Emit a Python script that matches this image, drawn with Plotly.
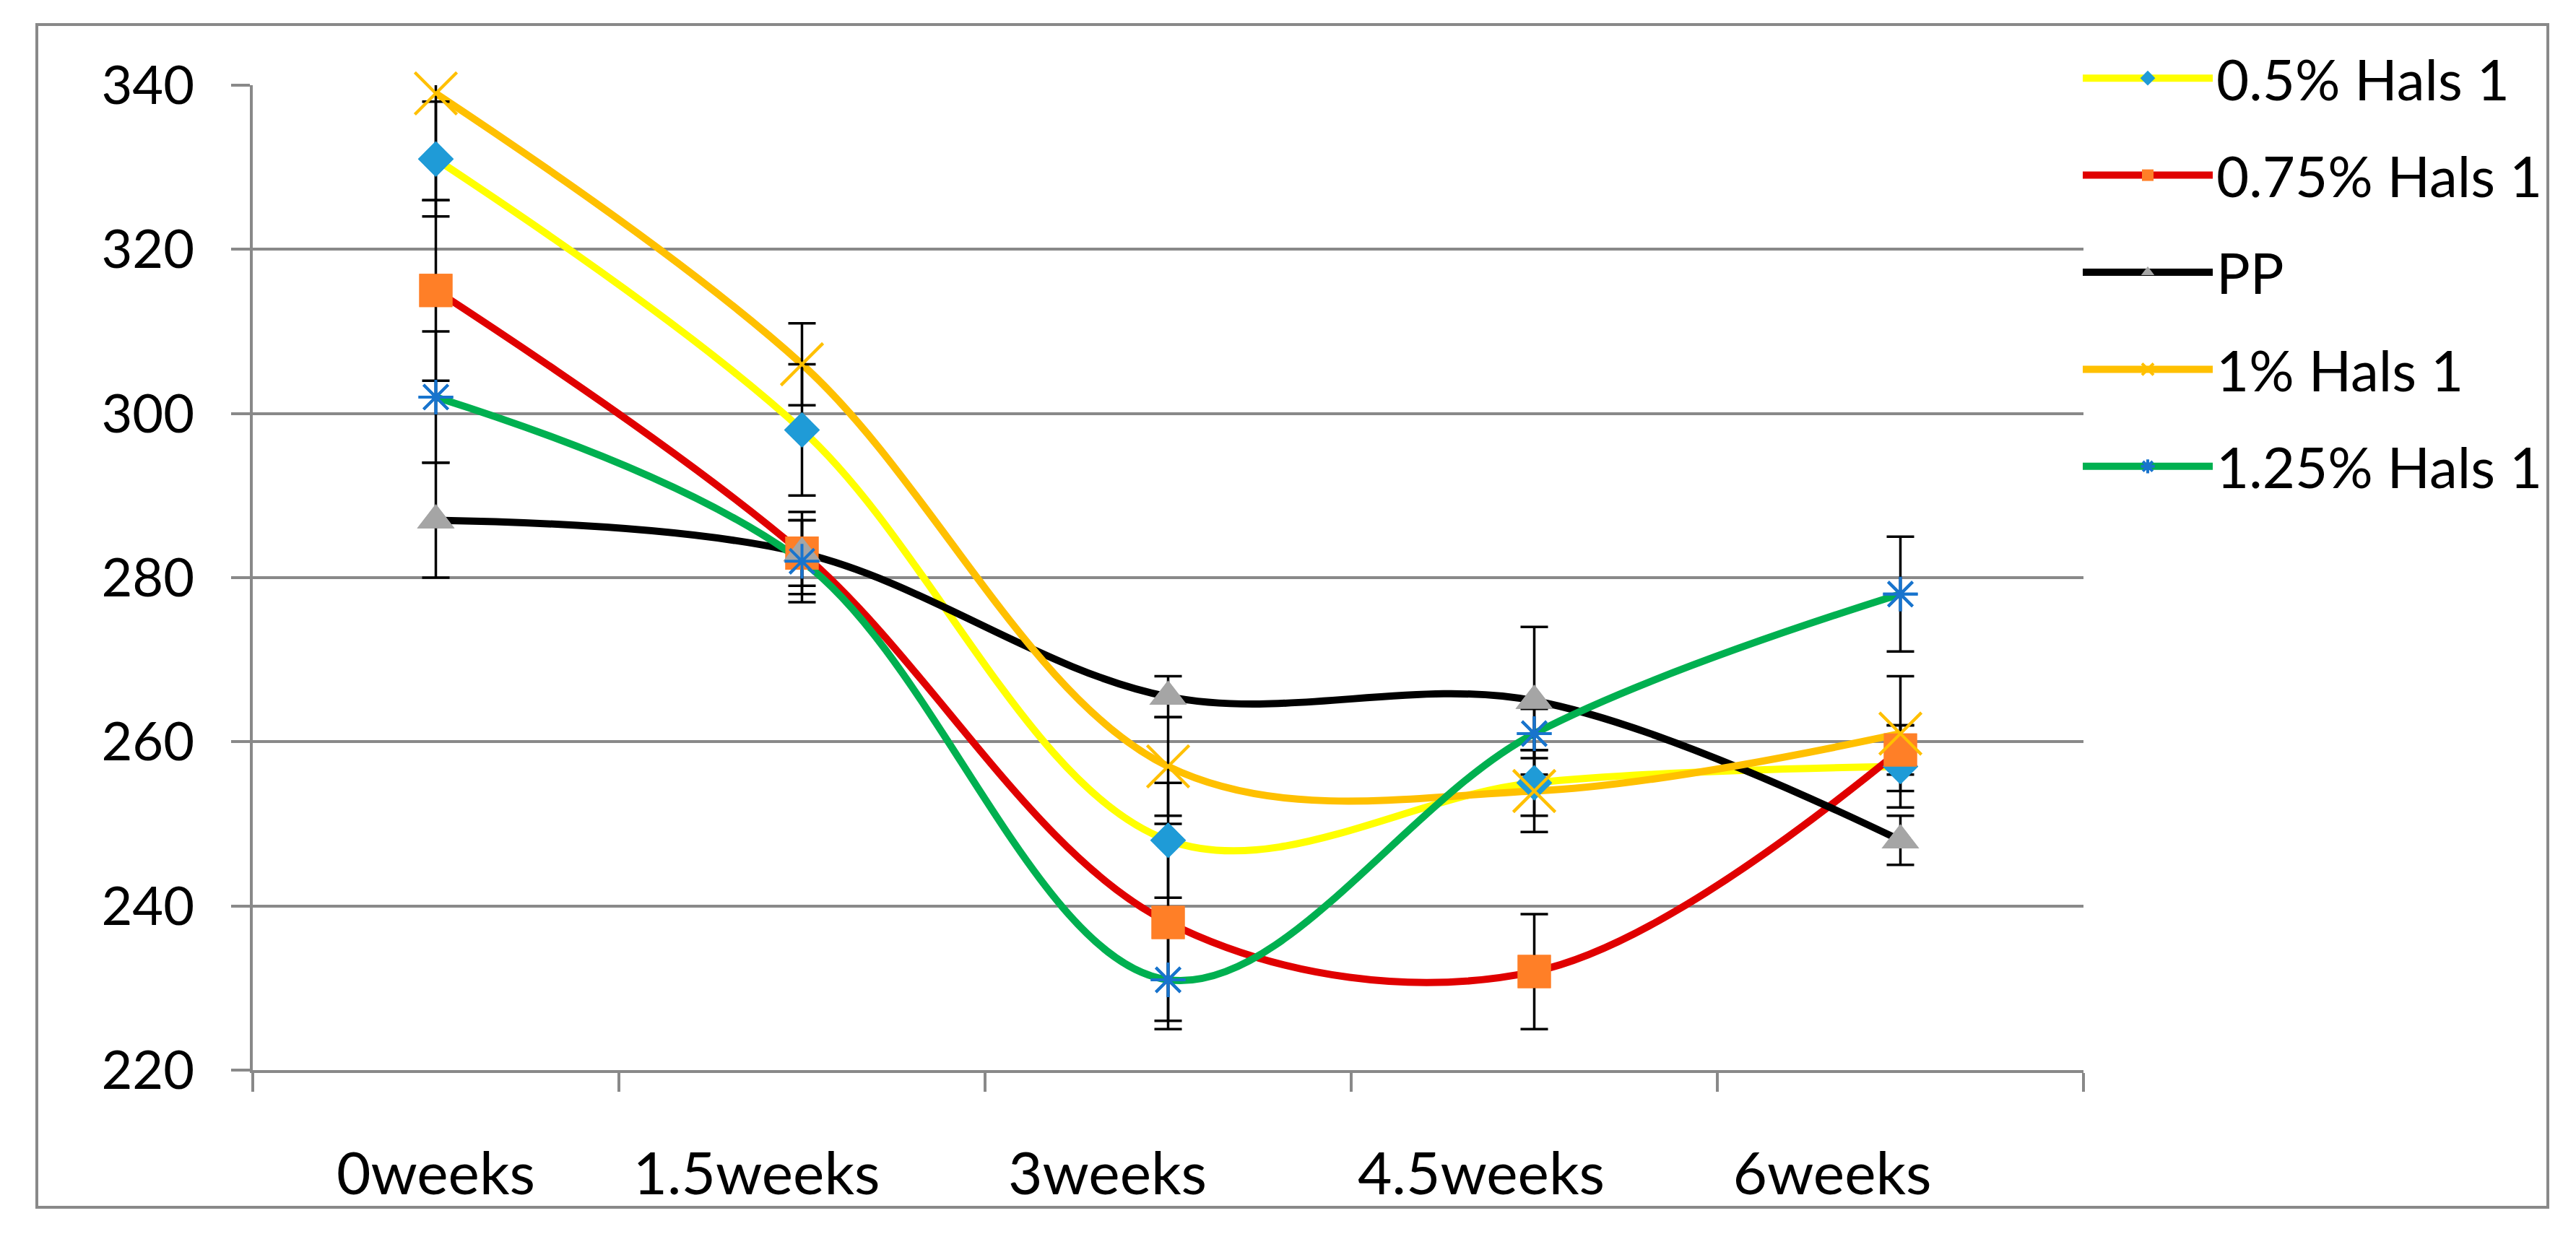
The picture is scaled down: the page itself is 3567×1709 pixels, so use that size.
import plotly.graph_objects as go

# ---------------- data ----------------
categories = ["0weeks", "1.5weeks", "3weeks", "4.5weeks", "6weeks"]
series_names = ["0.5% Hals 1", "0.75% Hals 1", "PP", "1% Hals 1", "1.25% Hals 1"]

hals_05 = [331, 298, 248, 255, 257]
hals_05_err = [7, 8, 7, 4, 5]
hals_075 = [315, 283, 238, 232, 259]
hals_075_err = [11, 5, 12, 7, 3]
pp = [287, 283, 265.5, 265, 248]
pp_err = [7, 4, 2.5, 9, 3]
hals_1 = [339, 306, 257, 254, 261]
hals_1_err = [13, 5, 6, 5, 7]
hals_125 = [302, 282, 231, 261, 278]
hals_125_err = [8, 5, 6, 3, 7]

y_ticks = [220, 240, 260, 280, 300, 320, 340]

values = [hals_05, hals_075, pp, hals_1, hals_125]
errors = [hals_05_err, hals_075_err, pp_err, hals_1_err, hals_125_err]

# ---------------- styles ----------------
line_colors = ["#FFFF00", "#E00000", "#000000", "#FFC000", "#00B050"]
marker_styles = [
    dict(symbol="diamond", color="#1F9BD7", size=38, line=dict(width=0, color="#1F9BD7")),
    dict(symbol="square", color="#FF7F27", size=46, line=dict(width=0, color="#FF7F27")),
    dict(symbol="triangle-up", color="#A5A5A5", size=45, line=dict(width=0, color="#A5A5A5")),
    dict(symbol="x-thin", color="#FFC000", size=58, line=dict(width=4, color="#FFC000")),
    dict(symbol="asterisk", color="#1874CD", size=40, line=dict(width=4, color="#1874CD")),
]
# Excel-style placement of the category labels (label text sits left of centre)
label_pad = [0, 6, 8, 7, 9]
GRID = "#898989"
FONT = "Lato, Open Sans, sans-serif"

# page is 3567x1709; the html body has an 8px default margin
OFF = 8
W, H = 3567 - 2 * OFF, 1709 - 2 * OFF
L = 350 - OFF
R = W - (2885 - OFF)
T = 118 - OFF
B = H - (1482 - OFF)
PW, PH = W - L - R, H - T - B


def px_x(x):  # page pixel -> paper x
    return (x - OFF - L) / PW


def px_y(y):  # page pixel -> paper y
    return (H - B - (y - OFF)) / PH


fig = go.Figure()

# lines (with legend entries)
for i in range(5):
    fig.add_trace(go.Scatter(
        x=categories, y=values[i], name=series_names[i],
        mode="lines+markers",
        line=dict(color=line_colors[i], width=10, shape="spline", smoothing=1.0),
        marker=marker_styles[i],
        legendgroup=f"g{i}", cliponaxis=False,
    ))

# error bars
for i in range(5):
    fig.add_trace(go.Scatter(
        x=categories, y=values[i], mode="markers",
        marker=dict(size=1, opacity=0),
        error_y=dict(type="data", array=errors[i], visible=True,
                     color="#000000", thickness=3.5, width=19),
        showlegend=False, hoverinfo="skip", cliponaxis=True,
    ))

# markers on top
for i in range(5):
    fig.add_trace(go.Scatter(
        x=categories, y=values[i], mode="markers",
        marker=marker_styles[i], showlegend=False, cliponaxis=False,
    ))

tick_text = [c + "\u00a0" * p for c, p in zip(categories, label_pad)]

fig.update_layout(
    width=W, height=H,
    margin=dict(l=L, r=R, t=T, b=B, pad=0, autoexpand=False),
    paper_bgcolor="white", plot_bgcolor="white",
    font=dict(family=FONT, color="#000000"),
    showlegend=True,
    legend=dict(
        x=px_x(2879), xanchor="left", y=px_y(51), yanchor="top",
        font=dict(size=78, family=FONT, color="#000000"),
        traceorder="grouped", tracegroupgap=30, itemwidth=180,
        bgcolor="rgba(0,0,0,0)", borderwidth=0,
    ),
    xaxis=dict(
        type="category", categoryorder="array", categoryarray=categories,
        tickmode="array", tickvals=categories, ticktext=tick_text,
        tickangle=0, automargin=False,
        range=[-0.5, 4.5], showgrid=False, zeroline=False,
        showline=True, linecolor=GRID, linewidth=4,
        ticks="outside", tickson="boundaries", ticklen=26, tickwidth=4, tickcolor=GRID,
        tickfont=dict(size=82, family=FONT, color="#000000"),
        ticklabelstandoff=70,
    ),
    yaxis=dict(
        range=[220, 340], tickvals=y_ticks, ticktext=[str(v) for v in y_ticks],
        automargin=False,
        showgrid=True, gridcolor=GRID, gridwidth=4, zeroline=False,
        showline=True, linecolor=GRID, linewidth=4,
        ticks="outside", ticklen=26, tickwidth=4, tickcolor=GRID,
        tickfont=dict(size=74, family=FONT, color="#000000"),
        ticklabelstandoff=36,
    ),
    shapes=[dict(
        type="rect", xref="paper", yref="paper",
        x0=px_x(51), x1=px_x(3528), y0=px_y(1672), y1=px_y(34),
        line=dict(color=GRID, width=4), fillcolor="rgba(0,0,0,0)", layer="below",
    )],
)

fig.write_html("out.html")
